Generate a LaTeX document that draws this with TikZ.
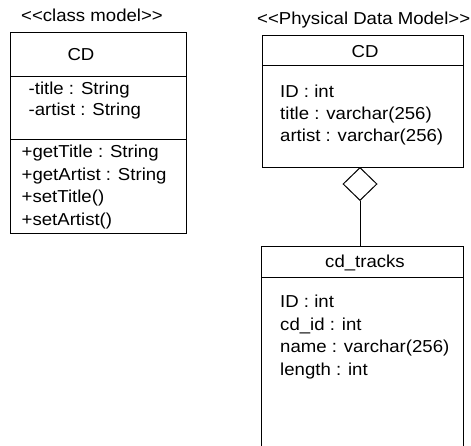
\documentclass[tikz,border=0pt]{standalone}
\usepackage{fontspec}
\newfontfamily\umlfont[FakeStretch=1.075]{Liberation Sans}
\usetikzlibrary{shapes.geometric}
\tikzset{
  box/.style={draw, line width=1pt, rectangle, inner sep=0pt, anchor=north west},
  divider/.style={line width=1pt},
  txt/.style={inner sep=0pt, anchor=base west, font=\umlfont\fontsize{17.3}{20}\selectfont},
  ctxt/.style={txt, anchor=base},
  agg/.style={draw, line width=1pt, shape=diamond, inner sep=0pt, minimum width=34pt, minimum height=33pt, anchor=north, fill=white},
  conn/.style={line width=1pt}
}
\begin{document}
\begin{tikzpicture}[x=1pt,y=-1pt]
\clip (0,0) rectangle (471,445);
\useasboundingbox (0,0) rectangle (471,445);
% ---- class model ----
\node[txt] (clslabel) at (21,21) {<<class model>>};
\node[box, minimum width=176pt, minimum height=200.5pt] (cls) at (10,32) {};
\coordinate (clsd1) at (10,76.5);
\coordinate (clsd2) at (10,139);
\draw[divider] (clsd1) -- (clsd1 -| cls.east);
\draw[divider] (clsd2) -- (clsd2 -| cls.east);
\node[ctxt] (clsname) at (81,60.5) {CD};
\node[txt] (a1) at (28.5,94) {-title : String};
\node[txt] (a2) at (28.5,115.5) {-artist : String};
\node[txt] (m1) at (21.5,157.5) {+getTitle : String};
\node[txt] (m2) at (21.5,180) {+getArtist : String};
\node[txt] (m3) at (21.5,202.5) {+setTitle()};
\node[txt] (m4) at (21.5,225) {+setArtist()};
% ---- physical data model ----
\node[txt] (pdmlabel) at (257,24.5) {<<Physical Data Model>>};
\node[box, minimum width=201pt, minimum height=132.5pt] (cd) at (262,34.5) {};
\coordinate (cdd1) at (262,65.5);
\draw[divider] (cdd1) -- (cdd1 -| cd.east);
\node[ctxt] (cdname) at (365,57) {CD};
\node[txt] (c1) at (280,97) {ID : int};
\node[txt] (c2) at (280,119) {title : varchar(256)};
\node[txt] (c3) at (280,141) {artist : varchar(256)};
% ---- cd_tracks ----
\node[box, minimum width=202pt, minimum height=230pt] (tr) at (261,246) {};
\coordinate (trd1) at (261,277);
\draw[divider] (trd1) -- (trd1 -| tr.east);
\node[ctxt] (trname) at (365,267) {cd\_tracks};
\node[txt] (t1) at (280,307) {ID : int};
\node[txt] (t2) at (280,330) {cd\_id : int};
\node[txt] (t3) at (280,352.5) {name : varchar(256)};
\node[txt] (t4) at (280,375) {length : int};
% ---- aggregation ----
\node[agg] (dia) at (360,167) {};
\draw[conn] (dia.south) -- (dia.south |- tr.north);
\end{tikzpicture}
\end{document}
